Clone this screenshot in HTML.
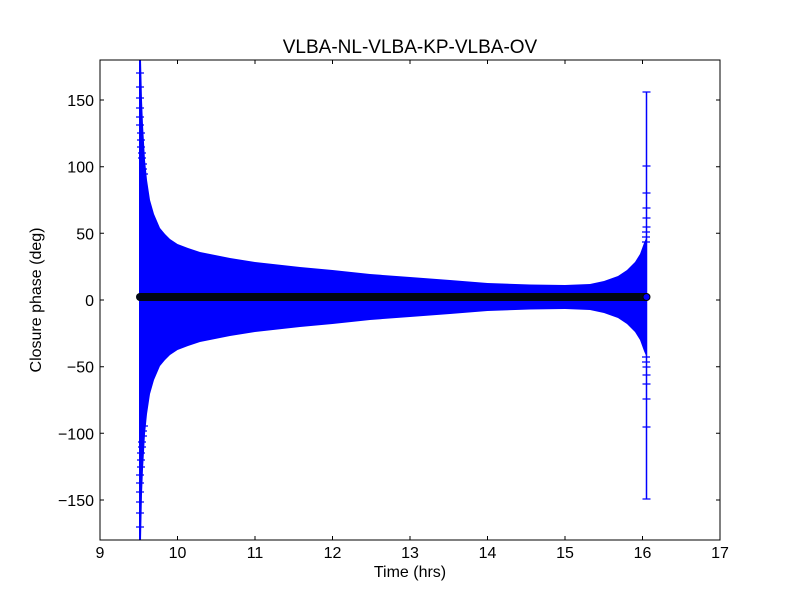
<!DOCTYPE html>
<html><head><style>body{margin:0;background:#fff}svg{display:block}text{font-family:"Liberation Sans","DejaVu Sans",sans-serif}</style></head>
<body>
<svg width="800" height="600" xmlns="http://www.w3.org/2000/svg">
<rect width="800" height="600" fill="#fff"/>
<defs><clipPath id="c"><rect x="100" y="60" width="620" height="480"/></clipPath></defs>
<g clip-path="url(#c)">
<polygon fill="#0000ff" points="139,60 141,60 142,100 143,125 145,160 147,180 150,200 154,214 160,228 165,234 170,239 177.5,244 188,248 200,252 230,258 255,262 300,267 332.5,270 370,274 410,277 450,280 487.5,283 530,284.5 565,285 590,284 604,281 618,276 627,270 635,262 640,254 644,243 647,236 647,358 644,351 640,340 635,332 627,324 618,318 604,313 590,310 565,309 530,309.5 487.5,311 450,314 410,317 370,320 332.5,324 300,327 255,332 230,336 200,342 188,346 177.5,350 170,355 165,360 160,366 154,380 150,394 147,414 145,434 143,469 142,494 141,540 139,540"/>
<g stroke="#0000ff" stroke-width="1.2">
<line x1="140" y1="60" x2="140" y2="540" stroke-width="2"/>
<line x1="646.5" y1="92" x2="646.5" y2="499" stroke-width="1.5"/>
<path d="M136 73h8M136 87h8M136 98h8M136 108h8M136 117h8M136 125h8M137 133h8M137 140h8M137 147h8M138 153h8M138 158h8M139 164h8M139 169h8M140 174h8
M136 527h8M136 513h8M136 502h8M136 492h8M136 483h8M136 475h8M137 467h8M137 460h8M137 453h8M138 447h8M138 442h8M139 436h8M139 431h8M140 426h8
M642.5 92h8M642.5 166h8M642.5 193h8M642.5 208h8M642.5 218h8M642.5 227h8M642 232h8M642 237h8M642 242h8
M642.5 499h8M642.5 427h8M642.5 399h8M642.5 384h8M642.5 375h8M642.5 367h8M642 362h8M642 357h8"/>
</g>
<line x1="140" y1="297" x2="645" y2="297" stroke="#000814" stroke-width="8" stroke-linecap="round"/>
<circle cx="646.5" cy="297" r="3.5" fill="#0000ff" stroke="#000" stroke-width="1"/>
</g>
<rect x="100" y="60" width="620" height="480" fill="none" stroke="#000" stroke-width="1"/>
<g stroke="#000" stroke-width="1">
<path d="M177.5 540v-4M255 540v-4M332.5 540v-4M410 540v-4M487.5 540v-4M565 540v-4M642.5 540v-4
M177.5 60v4M255 60v4M332.5 60v4M410 60v4M487.5 60v4M565 60v4M642.5 60v4
M100 100h4M100 166.7h4M100 233.3h4M100 300h4M100 366.7h4M100 433.3h4M100 500h4
M720 100h-4M720 166.7h-4M720 233.3h-4M720 300h-4M720 366.7h-4M720 433.3h-4M720 500h-4"/>
</g>
<g font-size="16" text-anchor="middle" fill="#000">
<text x="100" y="558">9</text><text x="177.5" y="558">10</text><text x="255" y="558">11</text><text x="332.5" y="558">12</text><text x="410" y="558">13</text><text x="487.5" y="558">14</text><text x="565" y="558">15</text><text x="642.5" y="558">16</text><text x="720" y="558">17</text>
</g>
<g font-size="16" text-anchor="end" fill="#000">
<text x="94" y="106">150</text><text x="94" y="172.7">100</text><text x="94" y="239.3">50</text><text x="94" y="306">0</text><text x="94" y="372.7">−50</text><text x="94" y="439.3">−100</text><text x="94" y="506">−150</text>
</g>
<text x="410" y="577" font-size="16" text-anchor="middle">Time (hrs)</text>
<text x="41" y="300" font-size="16" text-anchor="middle" transform="rotate(-90 41 300)">Closure phase (deg)</text>
<text x="410" y="53" font-size="19" text-anchor="middle">VLBA-NL-VLBA-KP-VLBA-OV</text>
</svg>
</body></html>
